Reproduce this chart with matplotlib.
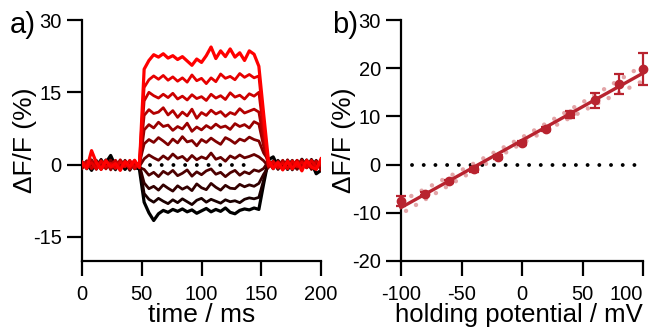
import matplotlib
matplotlib.use("Agg")
import matplotlib.pyplot as plt
import numpy as np

plt.rcParams['font.family'] = ['Liberation Sans', 'DejaVu Sans']
plt.rcParams['axes.unicode_minus'] = False

# ---- panel a: fluorescence traces, one per holding potential ----
t = np.arange(0, 201, 4)  # ms

# black (most negative) -> red (most positive)
traces = [
    # pre-pulse (0..48 ms) | pulse (52..148 ms) | 152 ms | post (156..200 ms)
    [-0.5, 0.3, -1.2, 0.6, -0.8, 0.4, 1.9, -0.3, 0.5, -1.0, 0.2, -0.6, -0.9,
     -7.8, -10.0, -11.6, -10.2, -9.5, -9.9, -9.3, -9.7, -9.2, -9.8, -9.4, -10.1, -9.6,
     -9.1, -9.8, -9.3, -9.7, -9.0, -9.9, -10.2, -9.5, -9.2, -9.4, -9.0, -9.3,
     -4.0,
     1.0, 1.6, -0.4, 0.6, -1.0, 0.3, -0.7, 1.1, -0.5, 0.4, -1.9, -1.2],
    [0.4, -0.9, 0.7, -0.3, 1.1, -0.6, 0.2, -1.1, 0.8, -0.2, 0.6, -0.7, 0.3,
     -6.0, -7.2, -7.8, -7.0, -7.6, -8.1, -7.3, -7.9, -7.1, -7.7, -8.3, -7.4, -7.0,
     -7.8, -7.2, -7.6, -8.0, -7.3, -7.7, -7.5, -7.9, -7.2, -6.9, -7.1, -6.8,
     -3.2,
     0.6, -0.8, 0.9, -0.4, 0.7, -1.1, 0.3, -0.6, 1.0, -0.9, 0.5, -0.3],
    [-0.7, 0.5, -0.2, 0.9, -1.0, 0.3, -0.5, 0.8, -0.4, 0.6, -1.2, 0.4, -0.1,
     -3.8, -5.0, -4.5, -5.3, -4.2, -4.9, -5.5, -4.4, -5.1, -4.6, -5.4, -4.0, -4.8,
     -5.2, -3.9, -4.7, -5.3, -4.3, -4.9, -5.0, -4.1, -4.6, -4.2, -4.5, -3.9,
     -2.0,
     -0.5, 0.8, -1.0, 0.4, -0.3, 0.9, -0.8, 0.2, -0.6, 1.1, -0.4, 0.7],
    [0.6, -0.4, 1.0, -0.8, 0.2, -0.5, 0.9, -0.2, -0.9, 0.4, -0.3, 0.8, -0.6,
     -1.0, -2.2, -1.6, -2.5, -1.4, -2.0, -1.2, -2.3, -1.8, -1.1, -2.4, -1.5, -2.1,
     -1.3, -0.9, -2.0, -1.6, -2.5, -1.7, -1.2, -2.2, -1.5, -1.9, -1.1, -1.4,
     -0.8,
     0.7, -0.6, 0.3, -1.0, 0.8, -0.2, 0.5, -0.9, 0.6, -0.4, 0.9, -0.7],
    [-0.3, 0.8, -0.9, 0.4, -0.6, 1.0, -0.4, 0.3, -0.8, 0.9, -0.5, 0.2, -0.4,
     1.2, 2.0, 1.4, 0.9, 1.8, 1.1, 2.2, 1.3, 1.7, 0.8, 1.9, 1.0, 1.6,
     1.2, 2.4, 1.1, 1.5, 0.7, 1.8, 1.3, 2.0, 1.4, 1.7, 2.1, 1.6,
     0.8,
     -0.4, 0.6, -0.9, 0.8, -0.5, 0.3, -1.0, 0.7, -0.2, 0.5, -0.8, 0.9],
    [0.5, -0.6, 0.3, -1.0, 0.7, -0.3, 0.9, -0.7, 0.4, -0.5, 0.8, -0.9, 0.2,
     4.3, 5.2, 4.6, 5.6, 4.9, 4.1, 5.3, 4.5, 5.8, 4.7, 5.0, 3.9, 5.2,
     4.6, 5.5, 4.8, 4.2, 5.6, 5.1, 4.4, 5.3, 4.9, 5.7, 5.2, 4.9,
     2.4,
     0.9, -0.5, 0.4, -0.8, 1.0, -0.6, 0.2, -0.4, 0.8, -1.0, 0.3, -0.5],
    [-0.8, 0.4, -0.5, 0.7, -0.2, 0.9, -1.1, 0.5, -0.3, 0.6, -0.7, 0.3, -0.5,
     7.2, 8.3, 7.6, 8.8, 7.9, 8.2, 7.1, 7.9, 7.4, 8.6, 6.9, 7.8, 7.2,
     8.1, 7.5, 8.4, 7.7, 8.0, 7.3, 8.5, 7.9, 8.3, 7.6, 8.9, 8.4,
     3.8,
     0.5, -0.9, 0.7, -0.3, 0.4, -0.8, 0.9, -0.6, 0.3, -0.4, 0.6, -1.1],
    [0.2, -0.7, 0.9, -0.4, 0.5, -0.9, 0.3, -0.6, 1.0, -0.3, 0.4, -0.8, 0.1,
     10.2, 11.4, 10.6, 10.9, 11.8, 10.3, 11.2, 9.8, 10.9, 10.1, 11.5, 9.6, 10.8,
     10.2, 11.3, 10.5, 11.0, 10.0, 10.8, 10.4, 11.6, 10.7, 11.1, 11.5, 10.9,
     5.2,
     -0.6, 0.7, -0.3, 0.9, -0.8, 0.4, -0.5, 1.0, -0.7, 0.2, -0.9, 0.6],
    [-0.4, 0.6, -0.8, 0.3, -0.6, 0.7, -0.2, 0.9, -0.7, 0.4, -0.9, 0.5, -0.3,
     13.2, 15.0, 14.3, 13.8, 14.6, 13.9, 14.8, 13.6, 14.2, 13.4, 14.5, 13.7, 14.1,
     13.3, 14.6, 13.8, 14.3, 13.5, 14.9, 14.0, 14.4, 13.6, 14.7, 14.2, 15.0,
     6.8,
     0.8, -0.4, 0.5, -1.0, 0.6, -0.3, 0.9, -0.8, 0.4, -0.6, 0.7, -0.2],
    [0.6, -0.3, 0.4, -0.9, 0.8, -0.5, 0.2, -0.8, 0.6, -0.4, 0.9, -0.6, 0.4,
     16.0, 17.6, 18.4, 17.7, 18.5, 17.5, 18.2, 17.3, 18.0, 17.1, 18.6, 17.4, 17.9,
     16.8, 18.0, 17.2, 18.8, 17.9, 18.3, 17.6, 18.9, 18.1, 18.7, 18.0, 18.4,
     8.5,
     -0.3, 0.6, -0.7, 0.4, -0.9, 0.8, -0.4, 0.5, -0.6, 0.9, -0.5, 0.3],
    [0.3, -0.8, 2.9, 0.4, -1.0, 0.8, -0.5, 0.2, -1.2, 0.6, -0.4, 0.9, -0.6,
     19.8, 21.6, 22.8, 22.3, 23.0, 22.1, 22.6, 21.8, 22.4, 21.5, 20.6, 21.9, 21.2,
     22.6, 24.4, 22.0, 23.6, 22.4, 24.0, 22.3, 23.2, 21.6, 23.6, 22.9, 20.4,
     10.5,
     0.9, -0.8, 0.4, -1.1, 0.7, -0.9, 0.5, -1.3, 0.9, -0.5, -1.0, 1.2],
]

# ---- panel b: response vs holding potential ----
v_hold = [-100, -80, -60, -40, -20, 0, 20, 40, 60, 80, 100]  # mV
dff = [-7.6, -6.0, -3.5, -1.0, 1.5, 4.4, 7.3, 10.4, 13.3, 16.7, 19.8]
dff_err = [1.0, 0.4, 0.4, 0.5, 0.4, 0.4, 0.4, 0.8, 1.5, 2.1, 3.3]
band_v = [-100, -50, 0, 50, 100]
band_half = [1.3, 0.8, 0.6, 0.9, 1.6]

dark_red = '#b8232f'
pink = '#e3a5a8'
dot_style = (0, (0.01, 3.0))

fig = plt.figure(figsize=(6.51, 3.33), dpi=100)
ax1 = fig.add_axes([82/651, 72/333, 239/651, 241/333])
ax2 = fig.add_axes([401/651, 72/333, 242/651, 241/333])

n = len(traces)
for i, tr in enumerate(traces):
    ax1.plot(t, tr, color=(i/(n-1), 0, 0), lw=2.3 if i in (0, n-1) else 2.0,
             solid_joinstyle='round', zorder=2+i)
ax1.plot([57, 137], [0, 0], color='k', lw=2.8, linestyle=dot_style,
         dash_capstyle='round', zorder=1)
ax1.set_xlim(0, 200)
ax1.set_ylim(-20, 30)
ax1.set_xticks([0, 50, 100, 150, 200])
ax1.set_yticks([30, 15, 0, -15])
ax1.set_xlabel('time / ms', fontsize=19)
ax1.set_ylabel('ΔF/F (%)', fontsize=19)
ax1.xaxis.set_label_coords(0.5, -0.175)
ax1.yaxis.set_label_coords(-0.19, 0.5)

# linear fit + band
slope, icpt = np.polyfit(v_hold, dff, 1)
band_v = np.array(band_v)
fit_b = slope*band_v + icpt
ax2.plot([-91, 93], [0, 0], color='k', lw=2.8, linestyle=dot_style,
         dash_capstyle='round', zorder=1)
ax2.plot(band_v, fit_b + np.array(band_half), color=pink, lw=3.2,
         linestyle=(0, (0.01, 2.6)), dash_capstyle='round', zorder=2)
ax2.plot(band_v, fit_b - np.array(band_half), color=pink, lw=3.2,
         linestyle=(1.3, (0.01, 2.6)), dash_capstyle='round', zorder=2)
ax2.plot([-100, 100], [slope*-100 + icpt, slope*100 + icpt], color=dark_red,
         lw=2.4, zorder=3, clip_on=False)
ax2.errorbar(v_hold, dff, yerr=dff_err, fmt='o', color=dark_red, ms=6,
             elinewidth=1.6, capsize=3.5, capthick=1.6, zorder=4, clip_on=False)
ax2.set_xlim(-100, 100)
ax2.set_ylim(-20, 30)
ax2.set_xticks([-100, -50, 0, 50, 100])
ax2.set_yticks([30, 20, 10, 0, -10, -20])
ax2.set_xlabel('holding potential / mV', fontsize=18.5)
ax2.set_ylabel('ΔF/F (%)', fontsize=19)
ax2.xaxis.set_label_coords(0.488, -0.175)
ax2.yaxis.set_label_coords(-0.185, 0.5)

for ax in (ax1, ax2):
    for s in ('top', 'right'):
        ax.spines[s].set_visible(False)
    for s in ('left', 'bottom'):
        ax.spines[s].set_linewidth(1.6)
    ax.tick_params(direction='out', length=10.5, width=1.6, labelsize=14.5, pad=4)
    ax.tick_params(axis='x', pad=7)

# last tick label of panel b sits left of its tick so it stays in the figure
ax2.get_xticklabels()[-1].set_horizontalalignment('right')

fig.text(10/651, 1 - 33/333, 'a)', fontsize=21, va='baseline')
fig.text(332/651, 1 - 33/333, 'b)', fontsize=21, va='baseline')

fig.savefig('out.png', dpi=100)
